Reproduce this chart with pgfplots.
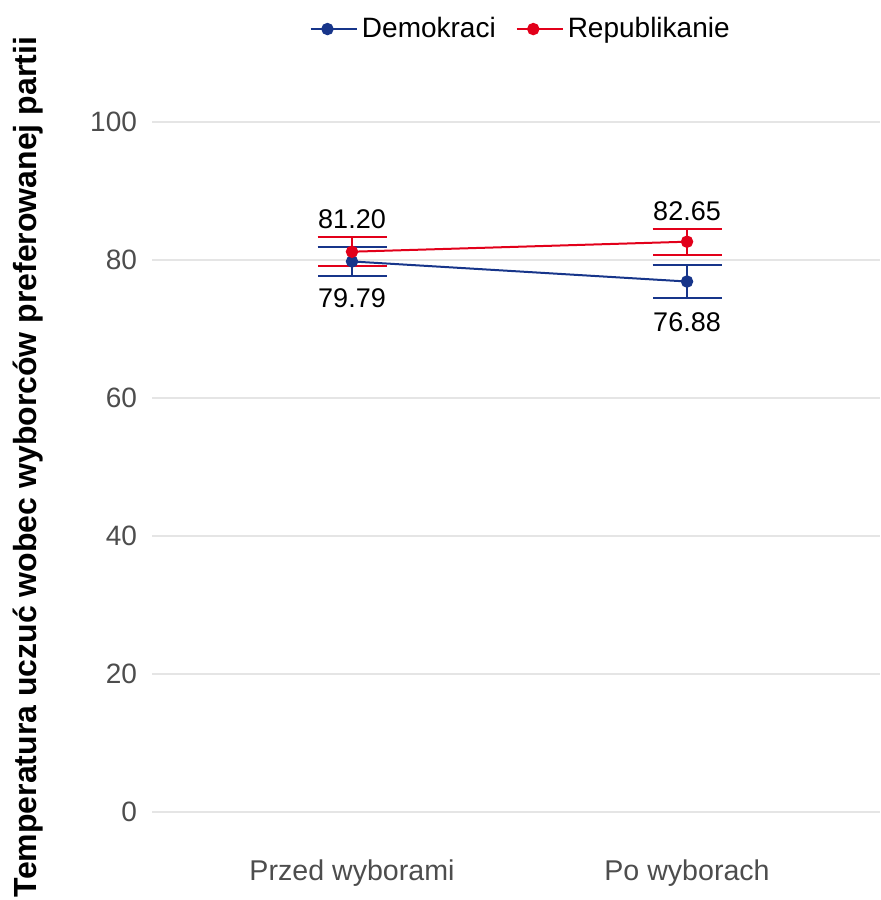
\documentclass[border=0pt]{standalone}
\usepackage{pgfplots}
\pgfplotsset{compat=1.18}
\usepackage{fontspec}
\setmainfont{Liberation Sans}
\definecolor{demblue}{HTML}{17358A}
\definecolor{repred}{HTML}{E2001A}
\definecolor{tickgray}{HTML}{4D4D4D}
\definecolor{gridgray}{HTML}{E5E5E5}
\begin{document}
\begin{tikzpicture}
\path[use as bounding box] (0,0) rectangle (440pt,450pt);
\begin{axis}[
  at={(76pt,26.75pt)}, anchor=south west,
  scale only axis, width=364pt, height=379.5pt,
  xmin=-0.597, xmax=1.576, ymin=-5, ymax=105,
  xtick={0,1}, xticklabels={Przed wyborami, Po wyborach},
  ytick={0,20,40,60,80,100},
  axis line style={draw=none},
  major tick length=0pt,
  ymajorgrids, major grid style={color=gridgray, line width=0.8pt},
  tick label style={font=\fontsize{14}{16}\selectfont, text=tickgray},
  xticklabel style={font=\fontsize{14.3}{16}\selectfont, yshift=-3pt},
  /pgf/number format/assume math mode=true,
  yticklabel style={xshift=-4pt},
  ylabel={\textbf{Temperatura uczuć wobec wyborców preferowanej partii}},
  ylabel style={font=\fontsize{16}{18}\selectfont, at={(axis description cs:-0.170,0.5)}, anchor=center},
  legend style={draw=none, fill=none, at={(0.508,1.077)}, anchor=center,
    font=\fontsize{14}{16}\selectfont, legend columns=2,
    /tikz/every even column/.append style={column sep=8pt}},
  legend image code/.code={%
    \draw[mark repeat=2,mark phase=2,#1] plot coordinates {(0pt,0pt)(8.25pt,0pt)(16.5pt,0pt)};
    \path (0pt,0pt) -- (23pt,0pt);},
  legend cell align=left,
  clip=false,
]
\addplot[color=demblue, line width=1pt, mark=*, mark size=2.6pt,
  error bars/.cd, y dir=both, y explicit,
  error bar style={line width=1pt, color=demblue},
  error mark options={rotate=90, mark size=17.25pt, line width=1pt, color=demblue}]
  coordinates {(0,79.79) +- (0,2.08) (1,76.88) +- (0,2.39)};
\addlegendentry{Demokraci}
\addplot[color=repred, line width=1pt, mark=*, mark size=2.6pt,
  error bars/.cd, y dir=both, y explicit,
  error bar style={line width=1pt, color=repred},
  error mark options={rotate=90, mark size=17.25pt, line width=1pt, color=repred}]
  coordinates {(0,81.20) +- (0,2.10) (1,82.65) +- (0,1.87)};
\addlegendentry{Republikanie}
\node[font=\fontsize{13.5}{16}\selectfont, anchor=center] at (axis cs:0,85.9) {81.20};
\node[font=\fontsize{13.5}{16}\selectfont, anchor=center] at (axis cs:0,74.5) {79.79};
\node[font=\fontsize{13.5}{16}\selectfont, anchor=center] at (axis cs:1,87.1) {82.65};
\node[font=\fontsize{13.5}{16}\selectfont, anchor=center] at (axis cs:1,71.0) {76.88};
\end{axis}
\end{tikzpicture}
\end{document}
